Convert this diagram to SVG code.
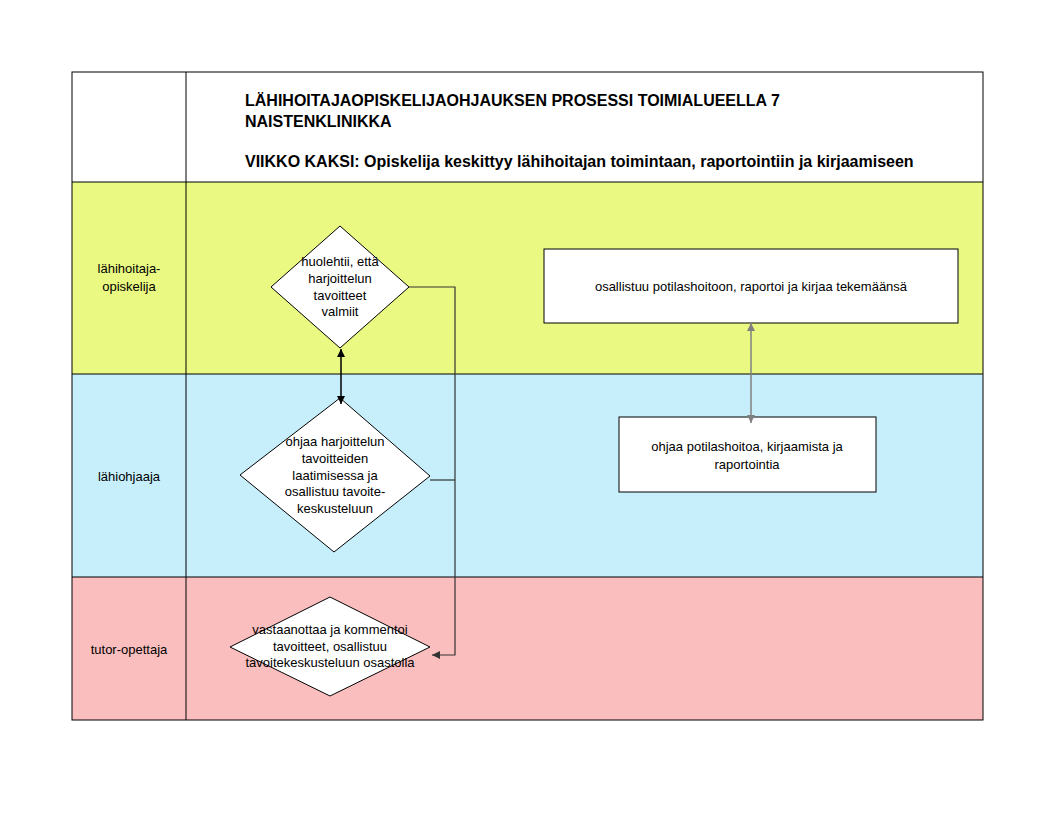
<svg xmlns="http://www.w3.org/2000/svg" width="1056" height="816" viewBox="0 0 1056 816">
<style>
text{font-family:"Liberation Sans",Arial,sans-serif;font-size:13px;fill:#000}
.t{font-size:16px;font-weight:bold}
.c{text-anchor:middle}
.frame{fill:none;stroke:#000;stroke-width:1}
.node{fill:#fff;stroke:#000;stroke-width:1}
.dk{fill:none;stroke:#333;stroke-width:1.2}
.bk{fill:none;stroke:#000;stroke-width:1.5}
.gr{fill:none;stroke:#808080;stroke-width:1.5}
</style>
<defs>
<marker id="ab" viewBox="0 0 10 10" refX="10" refY="5" markerWidth="8" markerHeight="8" orient="auto-start-reverse" markerUnits="userSpaceOnUse"><path d="M0,0 L10,5 L0,10 z" fill="#000"/></marker>
<marker id="ad" viewBox="0 0 10 10" refX="10" refY="5" markerWidth="8" markerHeight="8" orient="auto-start-reverse" markerUnits="userSpaceOnUse"><path d="M0,0 L10,5 L0,10 z" fill="#333"/></marker>
<marker id="ag" viewBox="0 0 10 10" refX="10" refY="5" markerWidth="8" markerHeight="8" orient="auto-start-reverse" markerUnits="userSpaceOnUse"><path d="M0,0 L10,5 L0,10 z" fill="#808080"/></marker>
</defs>
<rect width="1056" height="816" fill="#fff"/>
<g id="lanes">
<rect x="72" y="72" width="911" height="110" fill="#fff"/>
<rect x="72" y="182" width="911" height="192" fill="#EAF982"/>
<rect x="72" y="374" width="911" height="203" fill="#C6EFFB"/>
<rect x="72" y="577" width="911" height="143" fill="#FBBEBE"/>
<rect x="72" y="72" width="911" height="648" class="frame"/>
<line x1="186" y1="72" x2="186" y2="720" stroke="#000"/>
<line x1="72" y1="182" x2="983" y2="182" stroke="#000"/>
<line x1="72" y1="374" x2="983" y2="374" stroke="#000"/>
<line x1="72" y1="577" x2="983" y2="577" stroke="#000"/>
<text class="c" x="129" y="273">lähihoitaja-</text>
<text class="c" x="129" y="291">opiskelija</text>
<text class="c" x="129" y="481">lähiohjaaja</text>
<text class="c" x="129" y="654">tutor-opettaja</text>
</g>
<g id="title">
<text class="t" x="245" y="106">LÄHIHOITAJAOPISKELIJAOHJAUKSEN PROSESSI TOIMIALUEELLA 7</text>
<text class="t" x="245" y="127">NAISTENKLINIKKA</text>
<text class="t" x="245" y="167">VIIKKO KAKSI: Opiskelija keskittyy lähihoitajan toimintaan, raportointiin ja kirjaamiseen</text>
</g>
<g id="n1">
<polygon class="node" points="340,226 409,287 340,348 271,287"/>
<text class="c" x="340" y="266">huolehtii, että</text>
<text class="c" x="340" y="283">harjoittelun</text>
<text class="c" x="340" y="300">tavoitteet</text>
<text class="c" x="340" y="316">valmiit</text>
</g>
<g id="n2">
<polygon class="node" points="340,398 430,476 334,552 240,475"/>
<text class="c" x="335" y="446">ohjaa harjoittelun</text>
<text class="c" x="335" y="463">tavoitteiden</text>
<text class="c" x="335" y="480">laatimisessa ja</text>
<text class="c" x="335" y="496">osallistuu tavoite-</text>
<text class="c" x="335" y="513">keskusteluun</text>
</g>
<g id="n3">
<polygon class="node" points="330,597 430,647 330,696 230,647"/>
<text class="c" x="330" y="634">vastaanottaa ja kommentoi</text>
<text class="c" x="330" y="651">tavoitteet, osallistuu</text>
<text class="c" x="330" y="667">tavoitekeskusteluun osastolla</text>
</g>
<g id="n4">
<rect class="node" x="544" y="249" width="414" height="74"/>
<text class="c" x="751" y="291">osallistuu potilashoitoon, raportoi ja kirjaa tekemäänsä</text>
</g>
<g id="n5">
<rect class="node" x="619" y="417" width="257" height="75"/>
<text class="c" x="747" y="451">ohjaa potilashoitoa, kirjaamista ja</text>
<text class="c" x="747" y="469">raportointia</text>
</g>
<g id="connectors">
<polyline class="dk" points="409,287 455,287 455,655 432,655" marker-end="url(#ad)"/>
<polyline class="dk" points="430,480 455,480"/>
<line class="bk" x1="341" y1="349" x2="341" y2="404" marker-start="url(#ab)" marker-end="url(#ab)"/>
<line class="gr" x1="751" y1="323" x2="751" y2="423" marker-start="url(#ag)" marker-end="url(#ag)"/>
</g>
</svg>
